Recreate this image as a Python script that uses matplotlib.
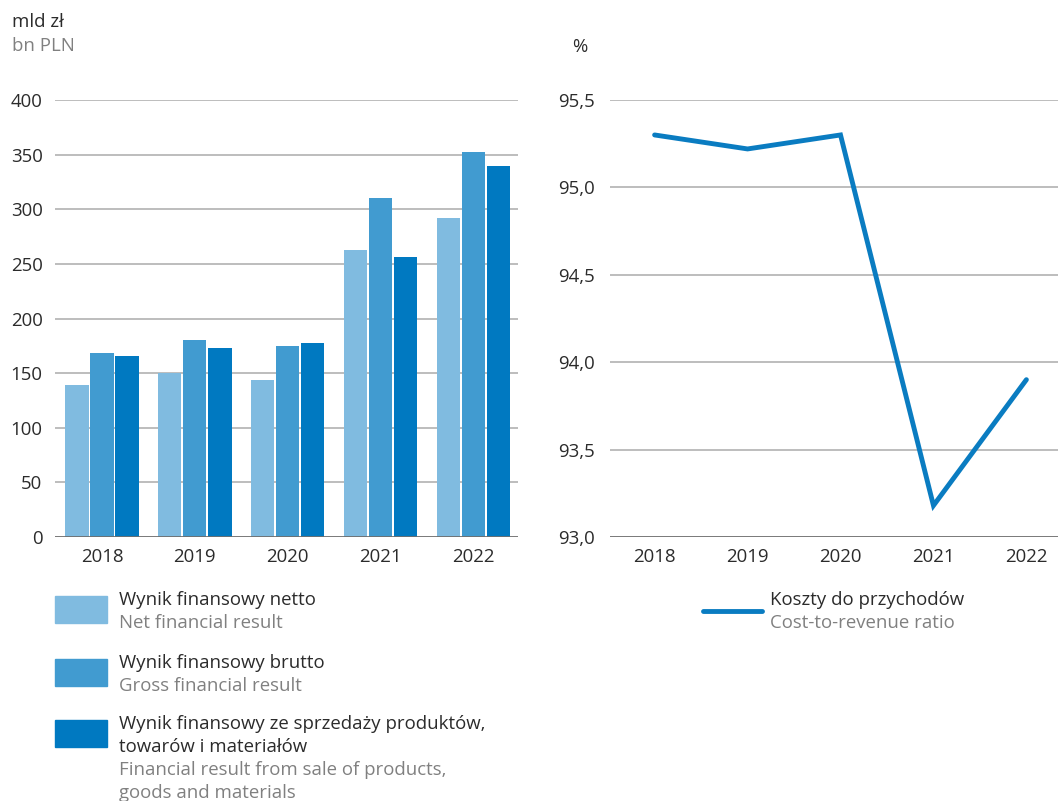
import matplotlib
matplotlib.use("Agg")
import matplotlib.pyplot as plt
from matplotlib.patches import Rectangle
from matplotlib.lines import Line2D
import numpy as np

plt.rcParams['font.family'] = ['Open Sans', 'DejaVu Sans']

# data
years = ["2018", "2019", "2020", "2021", "2022"]
net_result = [139, 150, 144, 263, 292]
gross_result = [168, 180, 175, 310, 352]
sales_result = [166, 173, 178, 256, 340]
cost_ratio = [95.30, 95.22, 95.30, 93.18, 93.90]

bar_ticks = [0, 50, 100, 150, 200, 250, 300, 350, 400]
line_ticks = [93.0, 93.5, 94.0, 94.5, 95.0, 95.5]

c_light = "#80BBE0"
c_mid = "#419BD0"
c_dark = "#0079C1"
c_line = "#0A7CC1"
c_text = "#2B2B2B"
c_gray = "#808080"
c_grid = "#ABABAB"

W, H = 1058, 801
fig = plt.figure(figsize=(W / 100, H / 100), dpi=100)

def px(x0, y0, x1, y1):
    return [x0 / W, 1 - y1 / H, (x1 - x0) / W, (y1 - y0) / H]

fs = 13.4

# left: bars
ax = fig.add_axes(px(55, 100, 518, 537))
x = np.arange(len(years))
step = 0.27
bw = 0.25
for k, (vals, col) in enumerate([(net_result, c_light), (gross_result, c_mid), (sales_result, c_dark)]):
    ax.bar(x + (k - 1) * step, vals, width=bw, color=col, zorder=3)
ax.set_xlim(-0.506, 4.48)
ax.set_ylim(0, 400)
ax.set_yticks(bar_ticks)
ax.set_yticklabels([str(t) for t in bar_ticks])
ax.set_xticks(x)
ax.set_xticklabels(years)
for t in bar_ticks[1:]:
    ax.axhline(t, color=c_grid, lw=1.1, zorder=1)
ax.axhline(0, color="#6E6E6E", lw=1.3, zorder=4)
for s in ax.spines.values():
    s.set_visible(False)
ax.tick_params(axis="both", length=0, labelsize=fs, colors=c_text)
ax.tick_params(axis="y", pad=9)
ax.tick_params(axis="x", pad=8)

# right: line
ax2 = fig.add_axes(px(610, 100, 1058, 537))
ax2.plot(x, cost_ratio, color=c_line, lw=3.5, solid_joinstyle="miter", solid_capstyle="round", zorder=3)
ax2.set_xlim(-0.48, 4.34)
ax2.set_ylim(93.0, 95.5)
ax2.set_yticks(line_ticks)
ax2.set_yticklabels([("%.1f" % t).replace(".", ",") for t in line_ticks])
ax2.set_xticks(x)
ax2.set_xticklabels(years)
for t in line_ticks[1:]:
    ax2.axhline(t, color=c_grid, lw=1.1, zorder=1)
ax2.axhline(93.0, color="#6E6E6E", lw=1.3, zorder=4)
for s in ax2.spines.values():
    s.set_visible(False)
ax2.tick_params(axis="both", length=0, labelsize=fs, colors=c_text)
ax2.tick_params(axis="y", pad=11)
ax2.tick_params(axis="x", pad=8)

# units
fig.text(12 / W, 1 - 22 / H, "mld zł", fontsize=fs, color=c_text, va="center")
fig.text(12 / W, 1 - 46 / H, "bn PLN", fontsize=fs, color=c_gray, va="center")
fig.text(572 / W, 1 - 47 / H, "%", fontsize=fs, color=c_text, va="center")

# legend (left)
legend_rows = [
    (c_light, 596, ["Wynik finansowy netto"], ["Net financial result"]),
    (c_mid, 659, ["Wynik finansowy brutto"], ["Gross financial result"]),
    (c_dark, 720, ["Wynik finansowy ze sprzedaży produktów,", "towarów i materiałów"],
     ["Financial result from sale of products,", "goods and materials"]),
]
lh = 23
for col, top, pl, en in legend_rows:
    fig.patches.append(Rectangle((55 / W, 1 - (top + 27) / H), 52 / W, 27 / H,
                                 transform=fig.transFigure, color=col))
    y = top + 4
    for line in pl:
        fig.text(119 / W, 1 - y / H, line, fontsize=fs, color=c_text, va="center")
        y += lh
    for line in en:
        fig.text(119 / W, 1 - y / H, line, fontsize=fs, color=c_gray, va="center")
        y += lh

# legend (right)
fig.lines.append(Line2D([703 / W, 762 / W], [1 - 611 / H, 1 - 611 / H],
                        transform=fig.transFigure, color=c_line, lw=3.5, solid_capstyle="round"))
fig.text(770 / W, 1 - 600 / H, "Koszty do przychodów", fontsize=fs, color=c_text, va="center")
fig.text(770 / W, 1 - 623 / H, "Cost-to-revenue ratio", fontsize=fs, color=c_gray, va="center")

fig.savefig("out.png", dpi=100)
